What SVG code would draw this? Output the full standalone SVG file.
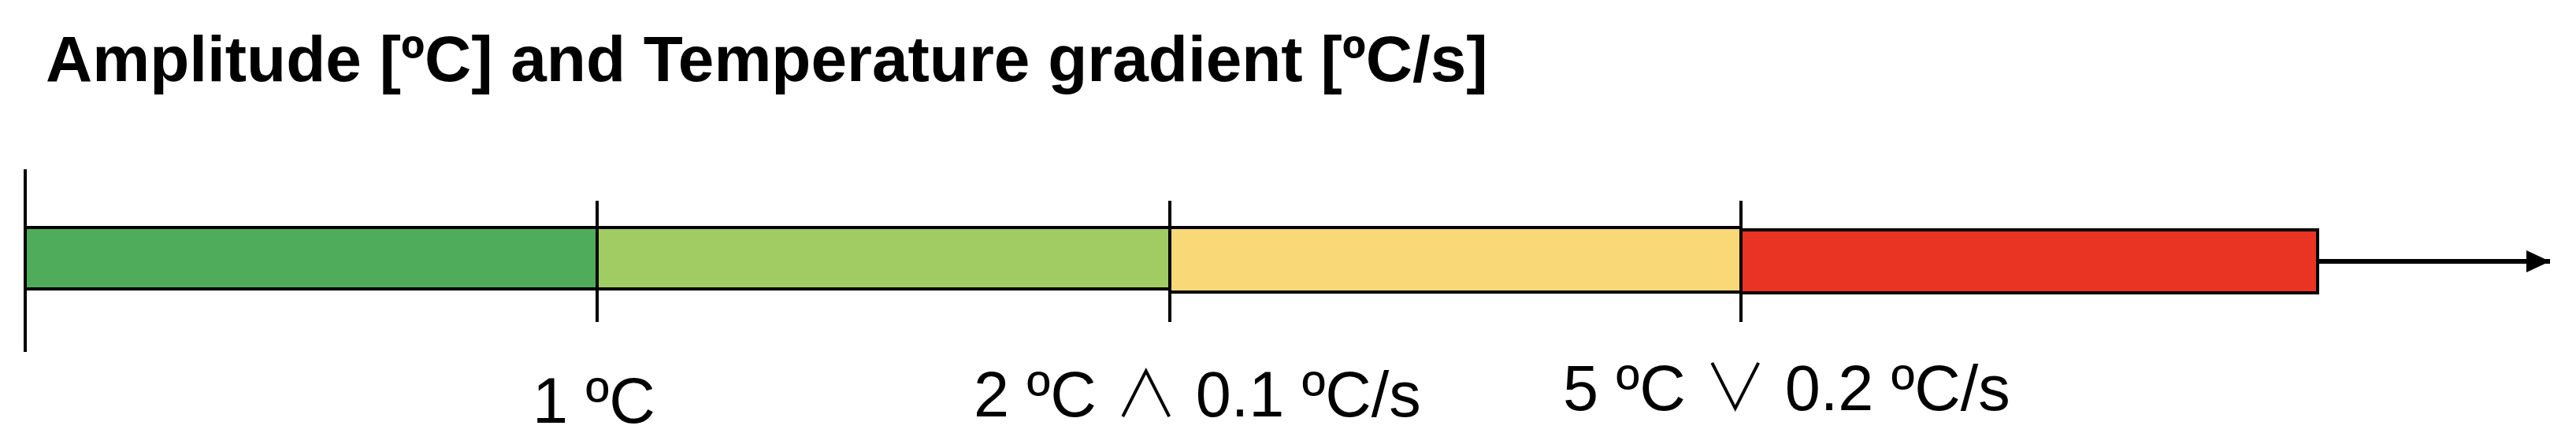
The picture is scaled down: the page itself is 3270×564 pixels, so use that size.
<svg xmlns="http://www.w3.org/2000/svg" width="3270" height="564" viewBox="0 0 3270 564">
  <style>
    .seg { stroke: #000; stroke-width: 4; }
    .tick { stroke: #000; stroke-width: 4; fill: none; }
    .title { font-family: "Liberation Sans", Arial, sans-serif; font-weight: bold; font-size: 82px; fill: #000; }
    .lbl { font-family: "Liberation Sans", Arial, sans-serif; font-size: 81px; fill: #000; }
    .op { font-family: "Noto Sans CJK JP", "DejaVu Sans", sans-serif; font-weight: 300; }
  </style>
  <defs>
    <marker id="arrowhead" markerUnits="userSpaceOnUse" markerWidth="32" markerHeight="30" refX="30" refY="14" orient="auto">
      <path d="M0,0 L30,14 L0,28 Z" fill="#000"/>
    </marker>
  </defs>
  <rect width="3270" height="564" fill="#fff"/>

  <text class="title" x="58" y="103">Amplitude [ºC] and Temperature gradient [ºC/s]</text>

  <g id="seg-green">
    <rect class="seg" x="32" y="289" width="726" height="78" fill="#4FAC5A"/>
  </g>
  <g id="seg-lightgreen">
    <rect class="seg" x="758" y="289" width="727" height="78" fill="#A1CC63"/>
  </g>
  <g id="seg-yellow">
    <rect class="seg" x="1485" y="289" width="725" height="82" fill="#F8D877"/>
  </g>
  <g id="seg-red">
    <rect class="seg" x="2210" y="292" width="732" height="80" fill="#E93323"/>
  </g>

  <g id="connectors">
    <line class="tick" x1="32" y1="215" x2="32" y2="447"/>
    <line class="tick" x1="758" y1="255" x2="758" y2="409"/>
    <line class="tick" x1="1485" y1="255" x2="1485" y2="409"/>
    <line class="tick" x1="2210" y1="255" x2="2210" y2="409"/>
    <line x1="2942" y1="332" x2="3237" y2="332" stroke="#000" stroke-width="6" marker-end="url(#arrowhead)"/>
  </g>

  <g id="labels">
    <text class="lbl" x="676" y="537">1 ºC</text>
    <text class="lbl" x="1236" y="529">2 ºC <tspan class="op">∧</tspan> 0.1 ºC/s</text>
    <text class="lbl" x="1984" y="521">5 ºC <tspan class="op">∨</tspan> 0.2 ºC/s</text>
  </g>
</svg>
